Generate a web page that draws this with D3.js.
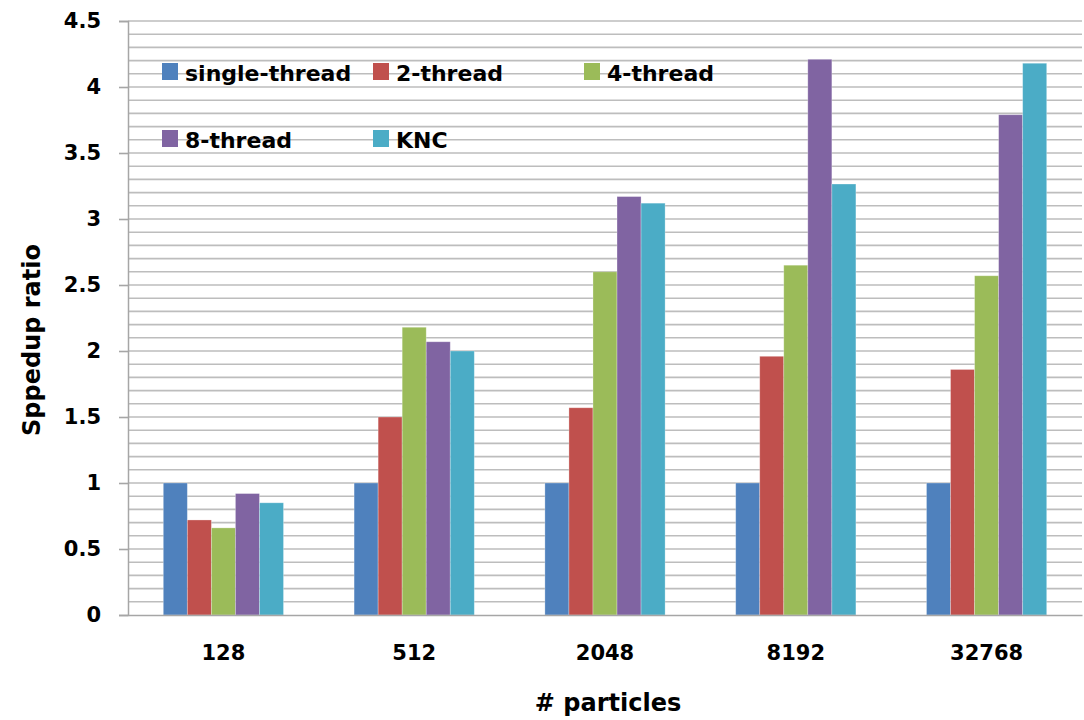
<!DOCTYPE html>
<html>
<head>
<meta charset="utf-8">
<script src="https://cdn.jsdelivr.net/npm/d3@7"></script>
<style>
  html, body { margin: 0; padding: 0; background: #fff; }
  svg { display: block; font-family: "DejaVu Sans", sans-serif; font-weight: bold; }
</style>
</head>
<body>
<div id="chart"></div>
<script>
// Speedup ratio per particle count, one bar per configuration
const categories = ["128", "512", "2048", "8192", "32768"]
const seriesNames = ["single-thread", "2-thread", "4-thread", "8-thread", "KNC"]
const singleThread = [1.0, 1.0, 1.0, 1.0, 1.0]
const twoThread = [0.72, 1.50, 1.57, 1.96, 1.86]
const fourThread = [0.66, 2.18, 2.60, 2.65, 2.57]
const eightThread = [0.92, 2.07, 3.17, 4.21, 3.79]
const knc = [0.85, 2.00, 3.12, 3.265, 4.18]
const yTicks = [0, 0.5, 1, 1.5, 2, 2.5, 3, 3.5, 4, 4.5]

const colors = ["#4F81BD", "#C0504D", "#9BBB59", "#8064A2", "#4BACC6"]
const seriesValues = [singleThread, twoThread, fourThread, eightThread, knc]

const FONT = "'DejaVu Sans', sans-serif"
const W = 1084, H = 720
const margin = { top: 21, right: 2, bottom: 105, left: 128 }
const plotW = W - margin.left - margin.right
const plotH = H - margin.top - margin.bottom

const svg = d3.select("#chart").append("svg")
  .attr("width", W).attr("height", H)

const g = svg.append("g").attr("transform", `translate(${margin.left},${margin.top})`)

const x = d3.scaleBand().domain(categories).range([0, plotW]).paddingInner(0.37).paddingOuter(0.185)
const xs = d3.scaleBand().domain(seriesNames).range([0, x.bandwidth()])
const y = d3.scaleLinear().domain([0, 4.5]).range([plotH, 0])

// minor gridlines every 0.1
const minor = d3.range(1, 46).map(i => i / 10)
g.append("g")
  .selectAll("line")
  .data(minor)
  .join("line")
  .attr("x1", 0).attr("x2", plotW)
  .attr("y1", d => y(d)).attr("y2", d => y(d))
  .attr("stroke", "#bdbdbd").attr("stroke-width", 1.6)

// bars
const rows = categories.map((c, i) => ({ c, vals: seriesValues.map((s, k) => ({ k, v: s[i] })) }))
g.append("g")
  .selectAll("g")
  .data(rows)
  .join("g")
  .attr("transform", d => `translate(${x(d.c)},0)`)
  .selectAll("rect")
  .data(d => d.vals)
  .join("rect")
  .attr("x", d => xs(seriesNames[d.k]))
  .attr("y", d => y(d.v))
  .attr("width", xs.bandwidth())
  .attr("height", d => y(0) - y(d.v))
  .attr("fill", d => colors[d.k])
  .attr("stroke", "rgba(255,255,255,0.35)")
  .attr("stroke-width", 0.8)

// y axis
const yAxis = g.append("g")
  .call(d3.axisLeft(y).tickValues(yTicks).tickSize(9).tickPadding(18).tickFormat(d3.format("")))
yAxis.select(".domain").attr("stroke", "#a6a6a6").attr("stroke-width", 1.5)
yAxis.selectAll(".tick line").attr("stroke", "#a6a6a6").attr("stroke-width", 1.6)
yAxis.selectAll(".tick text")
  .attr("fill", "#000").attr("font-size", 21).attr("font-weight", "bold")
  .attr("font-family", FONT)

// x axis
const xAxis = g.append("g")
  .attr("transform", `translate(0,${plotH})`)
  .call(d3.axisBottom(x).tickSize(0).tickPadding(30))
xAxis.select(".domain").attr("stroke", "#a6a6a6").attr("stroke-width", 1.6)
xAxis.selectAll(".tick text")
  .attr("fill", "#000").attr("font-size", 21).attr("font-weight", "bold")
  .attr("font-family", FONT)

// axis titles
svg.append("text")
  .attr("transform", `translate(40,${margin.top + plotH / 2 + 22}) rotate(-90)`)
  .attr("text-anchor", "middle")
  .attr("font-size", 24)
  .text("Sppedup ratio")

svg.append("text")
  .attr("x", margin.left + plotW / 2 + 3).attr("y", 711)
  .attr("text-anchor", "middle")
  .attr("font-size", 24)
  .text("# particles")

// legend
const legendPos = [[162, 72], [373, 72], [584, 72], [162, 139], [373, 139]]
const leg = svg.append("g")
  .selectAll("g")
  .data(seriesNames)
  .join("g")
  .attr("transform", (d, i) => `translate(${legendPos[i][0]},${legendPos[i][1]})`)
leg.append("rect")
  .attr("x", 0).attr("y", -9).attr("width", 16).attr("height", 17)
  .attr("fill", (d, i) => colors[i])
leg.append("text")
  .attr("x", 23).attr("y", 9)
  .attr("font-size", 22)
  .text(d => d)
</script>
</body>
</html>
